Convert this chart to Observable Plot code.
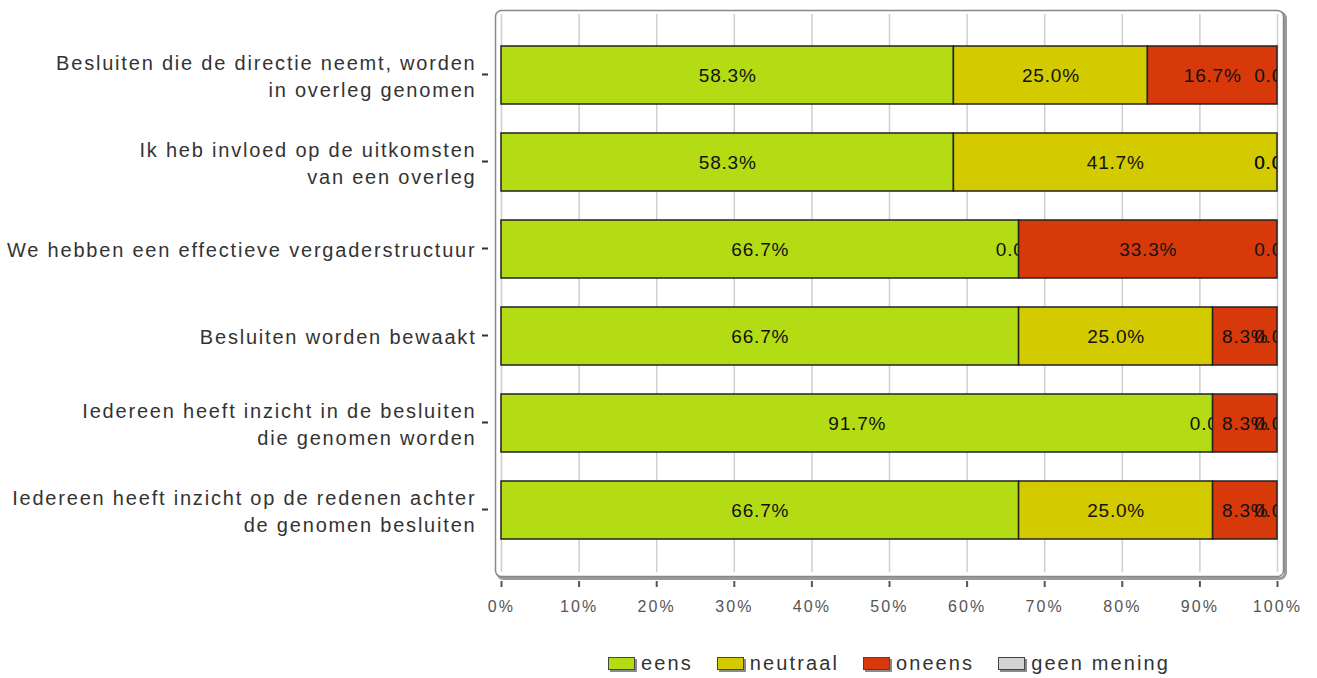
<!DOCTYPE html>
<html>
<head>
<meta charset="utf-8">
<script src="https://cdn.jsdelivr.net/npm/d3@7"></script>
<script src="https://cdn.jsdelivr.net/npm/@observablehq/plot@0.6"></script>
<style>
  html, body { margin: 0; padding: 0; background: #fff; }
  body { width: 1317px; height: 678px; overflow: hidden; font-family: "Liberation Sans", Arial, sans-serif; }
  #chart svg { display: block; }
  g[aria-label="y-axis tick label"] { letter-spacing: 1.8px; }
  g[aria-label="x-axis tick label"] { letter-spacing: 2.1px; }
  g[aria-label="text"] { letter-spacing: 0.8px; }
  #legend { display: flex; justify-content: center; align-items: center; margin-left: 501px; width: 776px; margin-top: 21px; height: 24px; }
  .item { display: flex; align-items: center; margin: 0 12px; }
  .sw { width: 27px; height: 13px; border: 1px solid #444; box-shadow: 2px 2px 0 #8a8a8a; margin-right: 6px; box-sizing: border-box; }
  .lab { font-size: 20px; color: #333; letter-spacing: 2.1px; }
</style>
</head>
<body>
<div id="chart"></div>
<div id="legend"></div>
<script>
const categories = [
  "Besluiten die de directie neemt, worden in overleg genomen",
  "Ik heb invloed op de uitkomsten van een overleg",
  "We hebben een effectieve vergaderstructuur",
  "Besluiten worden bewaakt",
  "Iedereen heeft inzicht in de besluiten die genomen worden",
  "Iedereen heeft inzicht op de redenen achter de genomen besluiten"
];
const categoryLabels = [
  "Besluiten die de directie neemt, worden\nin overleg genomen",
  "Ik heb invloed op de uitkomsten\nvan een overleg",
  "We hebben een effectieve vergaderstructuur",
  "Besluiten worden bewaakt",
  "Iedereen heeft inzicht in de besluiten\ndie genomen worden",
  "Iedereen heeft inzicht op de redenen achter\nde genomen besluiten"
];
const seriesNames = ["eens", "neutraal", "oneens", "geen mening"];
const seriesColors = ["#b4dc14", "#d4ca00", "#d8390b", "#d3d3d3"];
const eens = [58.3, 58.3, 66.7, 66.7, 91.7, 66.7];
const neutraal = [25.0, 41.7, 0.0, 25.0, 0.0, 25.0];
const oneens = [16.7, 0.0, 33.3, 8.3, 8.3, 8.3];
const geenMening = [0.0, 0.0, 0.0, 0.0, 0.0, 0.0];
const xTicks = [0, 10, 20, 30, 40, 50, 60, 70, 80, 90, 100];

const seriesValues = [eens, neutraal, oneens, geenMening];
const labelMap = new Map(categories.map((c, i) => [c, categoryLabels[i]]));

// stacked table
const rows = [];
categories.forEach((cat, i) => {
  let acc = 0;
  seriesNames.forEach((s, j) => {
    const v = seriesValues[j][i];
    rows.push({cat, series: s, value: v, x1: acc, x2: acc + v});
    acc += v;
  });
});

const marks = [
  Plot.frame({rx: 6, stroke: "#9a9a9a", strokeWidth: 3, insetLeft: -6, insetRight: -6, dx: 2, dy: 2}),
  Plot.frame({rx: 6, fill: "white", stroke: "#888", strokeWidth: 1.5, insetLeft: -6, insetRight: -6}),
  Plot.ruleX(xTicks, {stroke: "#cfcfcf", strokeWidth: 1.5, insetTop: 4, insetBottom: 4})
];
seriesNames.forEach((s, j) => {
  const d = rows.filter(r => r.series === s);
  marks.push(Plot.barX(d, {x1: "x1", x2: "x2", y: "cat", fill: seriesColors[j], stroke: "#222", strokeWidth: 1.5}));
  marks.push(Plot.text(d, {
    x: r => (r.x1 + r.x2) / 2, y: "cat",
    text: r => r.value.toFixed(1) + "%",
    fontSize: 19, fill: "#111", clip: true
  }));
});
marks.push(Plot.axisX({ticks: xTicks, tickFormat: d => d + "%", tickSize: 6, tickPadding: 13, dy: 5, fontSize: 16, color: "#555", strokeWidth: 2, label: null}));
marks.push(Plot.axisY({tickFormat: d => labelMap.get(d), tickSize: 6, tickPadding: 6, dx: -13, dy: -1, fontSize: 20, lineHeight: 1.38, color: "#333", strokeWidth: 2, label: null}));

const chart = Plot.plot({
  width: 1317,
  height: 630,
  marginLeft: 501,
  marginRight: 40,
  marginTop: 10,
  marginBottom: 54,
  style: {fontFamily: "'Liberation Sans', Arial, sans-serif", background: "white", overflow: "visible"},
  x: {domain: [0, 100], label: null},
  y: {domain: categories, paddingInner: 0.33, paddingOuter: 0.4, label: null},
  marks
});
document.getElementById("chart").appendChild(chart);

const legend = document.getElementById("legend");
seriesNames.forEach((s, j) => {
  const item = document.createElement("div");
  item.className = "item";
  const sw = document.createElement("div");
  sw.className = "sw";
  sw.style.background = seriesColors[j];
  const lab = document.createElement("span");
  lab.className = "lab";
  lab.textContent = s;
  item.appendChild(sw);
  item.appendChild(lab);
  legend.appendChild(item);
});
</script>
</body>
</html>
